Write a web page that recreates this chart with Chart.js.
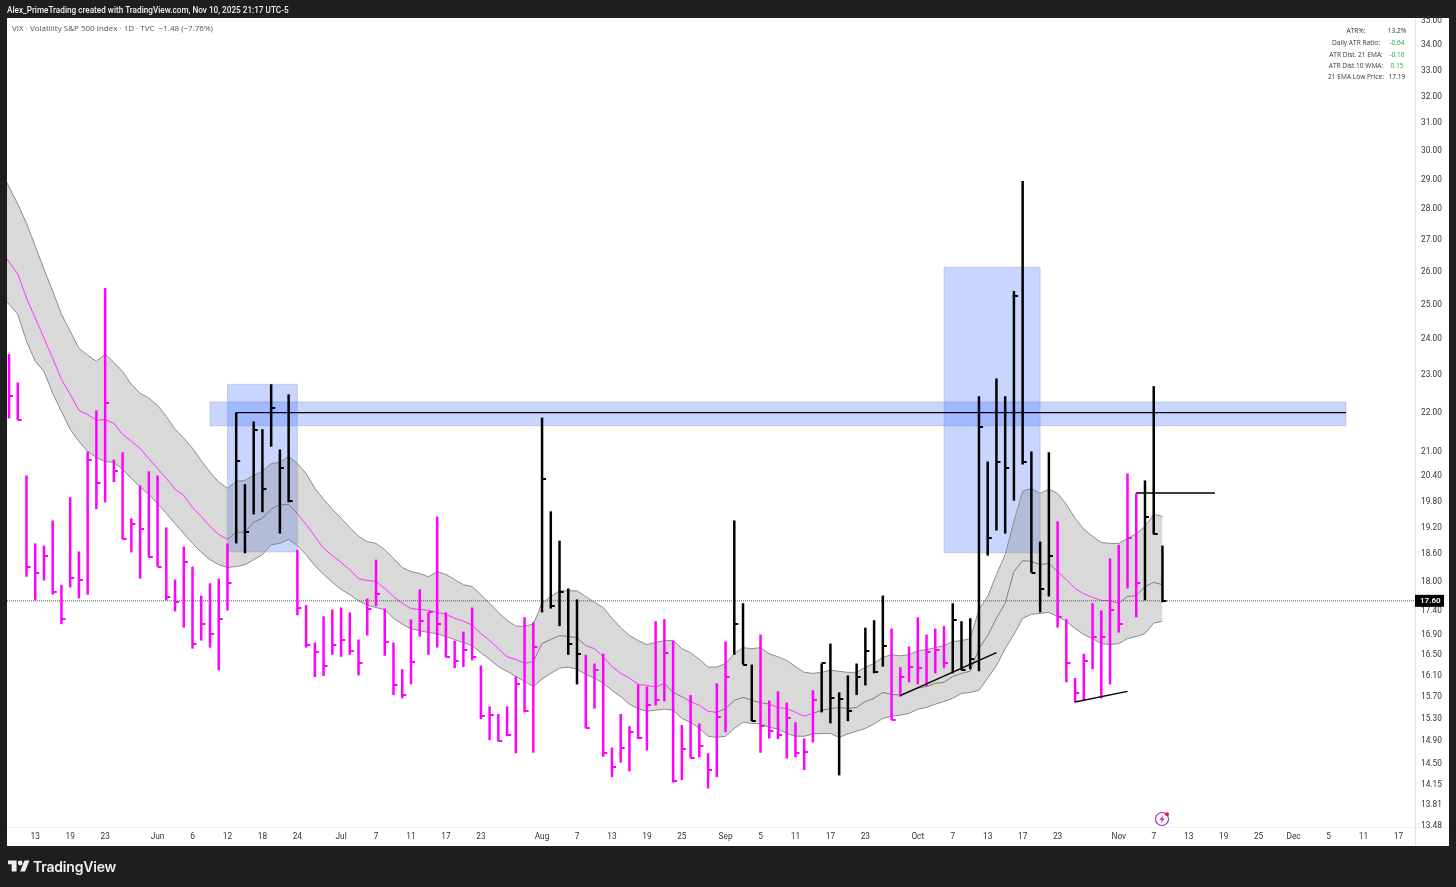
<!DOCTYPE html>
<html>
<head>
<meta charset="utf-8">
<title>VIX</title>
<script src="https://cdn.jsdelivr.net/npm/chart.js@4"></script>
<style>
  html, body { margin:0; padding:0; width:1456px; height:887px; overflow:hidden; background:#1e1e1e; }
  body { position:relative; font-family:Roboto, sans-serif; }
  #panel { position:absolute; left:7px; top:18px; width:1442px; height:828px; background:#fff; }
  #lineV { position:absolute; left:1415px; top:18px; width:1px; height:828px; background:#e0e3eb; }
  #lineH { position:absolute; left:7px; top:827px; width:1442px; height:1px; background:#eef0f3; }
  canvas { position:absolute; left:0; top:0; }
  .txt { position:absolute; white-space:nowrap; }
  #head { left:7px; top:3px; font-size:8.2px; line-height:14px; color:#f0f0f0; font-weight:500; }
  #sub { left:12px; top:22px; font-family:"Open Sans", sans-serif; font-size:8px; line-height:12px; color:#50535e; }
  #stats { position:absolute; left:1320px; top:25px; width:100px; font-family:"Open Sans", sans-serif; font-size:6.6px; color:#333; }
  .row { position:absolute; left:0; width:100px; height:11px; line-height:11px; }
  .row b { position:absolute; left:0; width:72px; text-align:center; font-weight:400; }
  .row i { position:absolute; left:62px; width:30px; text-align:center; font-style:normal; }
  .green { color:#22ab3c; }
  #logo { position:absolute; left:8px; top:858px; }
  #brand { left:33px; top:857px; font-family:Inter, sans-serif; font-size:14px; line-height:20px; font-weight:600; color:#f0f0f0; letter-spacing:-0.2px; }
  #bolt { position:absolute; left:1154px; top:811px; }
</style>
</head>
<body>
<div id="panel"></div>
<div id="lineV"></div>
<div id="lineH"></div>
<canvas id="myChart" width="1456" height="887"></canvas>
<div class="txt" id="head">Alex_PrimeTrading created with TradingView.com, Nov 10, 2025 21:17 UTC-5</div>
<div class="txt" id="sub">VIX · Volatility S&amp;P 500 Index · 1D · TVC &nbsp;−1.48 (−7.76%)</div>
<div id="stats"></div>
<svg id="logo" width="22" height="16" viewBox="0 0 36 24"><path fill="#f0f0f0" d="M14 3H0v6h6v12h8V3zM28 21h-8l7-18h8z"/><circle fill="#f0f0f0" cx="20" cy="7" r="4"/></svg>
<div class="txt" id="brand">TradingView</div>
<svg id="bolt" width="18" height="16" viewBox="0 0 18 16"><circle cx="8" cy="8" r="6.5" fill="#fff" stroke="#a32fc4" stroke-width="1.2"/><path fill="#c026c8" d="M9 4 5.6 8.8h2.2l-.8 3.4 3.6-5H8.3z"/><circle cx="13" cy="3.2" r="2" fill="#f0203c"/></svg>

<script>
'use strict';

// Daily VIX bars, one entry per session, first bar is mid May
const highs=[
  23.58,22.80,20.42,18.84,18.79,19.36,17.94,19.90,18.66,21.01,
  22.06,25.50,20.81,20.99,19.41,20.18,20.52,20.42,19.20,18.05,
  18.77,18.33,17.71,17.97,18.07,18.84,22.00,20.21,21.77,21.57,
  22.75,21.06,22.48,18.70,17.51,16.75,17.28,17.42,17.46,17.36,
  16.81,17.65,18.48,17.44,16.75,16.23,17.22,17.84,17.36,19.45,
  17.36,16.79,16.97,17.46,16.30,15.53,15.39,15.53,16.09,17.26,
  17.16,21.87,19.57,18.90,17.86,17.63,16.51,16.34,16.53,14.79,
  15.39,15.17,15.94,15.90,17.18,17.22,16.79,15.19,15.74,15.22,
  14.69,15.96,16.77,19.36,17.55,16.32,16.91,15.64,15.81,15.60,
  15.24,14.95,15.83,16.34,16.73,15.79,16.11,16.34,17.05,17.20,
  17.71,17.03,16.27,16.67,17.26,16.91,17.03,17.08,17.55,17.18,
  17.24,22.43,20.76,22.91,22.43,25.41,28.95,21.01,18.88,20.99,
  19.34,17.22,16.06,16.53,17.55,17.40,18.51,18.81,20.47,19.99,
  20.30,22.70,18.79
];
const lows=[
  21.85,21.80,18.11,17.61,18.03,17.73,17.12,17.88,17.65,17.73,
  19.62,19.78,20.26,18.93,18.64,18.07,18.53,18.33,17.61,17.38,
  17.05,16.63,16.79,16.65,16.21,17.40,18.84,18.62,19.50,19.55,
  21.13,19.06,19.78,17.30,16.65,16.08,16.10,16.51,16.47,16.51,
  16.11,16.89,17.49,16.49,15.74,15.68,15.94,16.87,16.51,16.65,
  16.46,16.25,16.27,16.40,15.30,14.92,14.90,14.99,14.69,15.42,
  14.70,17.36,17.44,17.08,16.51,15.94,15.13,15.49,14.63,14.28,
  14.53,14.38,14.94,14.74,15.55,15.62,14.19,14.23,14.60,14.62,
  14.09,14.28,15.06,16.51,16.32,15.26,14.70,14.95,14.94,14.60,
  14.62,14.40,14.88,15.42,15.22,14.31,15.26,15.74,15.92,16.15,
  16.28,15.28,15.71,15.98,15.94,15.90,16.15,16.25,16.15,16.21,
  16.23,16.19,18.57,19.13,19.06,19.82,20.69,18.20,17.36,17.69,
  17.05,15.98,15.60,15.64,16.23,15.68,15.94,16.95,17.86,17.26,
  17.61,19.04,17.57
];
const closes=[
  22.43,21.82,18.33,18.18,18.57,17.79,17.22,18.09,18.05,20.81,
  20.23,22.25,20.52,18.93,19.27,19.16,18.53,18.33,17.67,17.57,
  18.44,16.73,17.12,16.93,17.22,17.97,20.78,19.09,21.54,20.09,
  22.11,20.59,19.80,17.46,16.71,16.57,16.30,16.71,16.81,16.59,
  16.34,17.44,17.75,16.77,15.92,15.75,16.36,17.18,17.36,17.12,
  16.47,16.38,16.61,16.46,15.35,15.37,14.90,15.01,15.94,15.44,
  16.67,20.33,17.49,17.79,16.73,16.53,15.13,16.21,14.70,14.46,
  14.79,15.06,14.95,15.55,15.64,16.55,14.21,14.77,14.60,14.81,
  14.41,15.33,16.08,17.12,16.32,15.26,15.17,15.08,15.01,15.31,
  14.69,14.72,15.64,16.34,15.68,15.66,15.44,16.08,16.59,16.17,
  16.69,15.28,16.08,16.27,16.25,16.57,16.61,16.34,17.20,16.21,
  16.42,21.62,18.97,20.74,20.59,25.26,20.74,18.20,17.84,18.55,
  17.26,16.34,15.77,16.38,16.87,16.87,17.40,17.12,18.95,17.97,
  19.45,19.04,17.60
];
// sessions drawn black in the reference, the rest are magenta
const blackRuns=[[26,32],[61,65],[83,85],[93,100],[108,119],[130,132]];
// sessions where the middle band line turns grey
const greyMidRuns=[[25,32],[60,65],[75,76],[81,86],[92,119],[127,132]];

// EMA band. The *Before values are the session left of the first bar, cut off by the frame
const upperBefore=29.33;
const middleBefore=26.71;
const lowerBefore=25.26;
const bandUpper=[
  28.75,28.17,27.54,26.80,26.08,25.41,24.72,24.23,23.74,23.55,
  23.38,23.58,23.35,23.10,22.75,22.51,22.38,22.19,21.90,21.57,
  21.34,21.09,20.78,20.50,20.26,20.11,20.28,20.30,20.42,20.52,
  20.71,20.74,20.89,20.71,20.47,20.11,19.85,19.62,19.41,19.20,
  19.00,18.88,18.84,18.70,18.51,18.31,18.22,18.18,18.11,18.22,
  18.16,18.05,17.94,17.90,17.73,17.55,17.36,17.20,17.08,17.08,
  17.12,17.55,17.69,17.81,17.81,17.81,17.69,17.57,17.46,17.24,
  17.05,16.89,16.79,16.71,16.75,16.79,16.79,16.63,16.55,16.42,
  16.27,16.27,16.34,16.53,16.65,16.63,16.65,16.53,16.47,16.40,
  16.28,16.17,16.15,16.17,16.21,16.19,16.17,16.17,16.27,16.34,
  16.46,16.51,16.49,16.51,16.59,16.61,16.65,16.69,16.77,16.79,
  16.83,17.42,17.69,18.16,18.59,19.34,20.04,20.11,19.99,20.09,
  19.99,19.73,19.41,19.16,19.00,18.86,18.84,18.84,18.95,19.06,
  19.22,19.50,19.45
];
const bandMiddle=[
  26.30,25.93,25.20,24.61,24.03,23.46,22.88,22.48,22.06,21.95,
  21.80,21.82,21.72,21.44,21.26,21.09,20.83,20.59,20.35,20.09,
  19.94,19.66,19.45,19.22,19.04,18.93,19.09,19.09,19.32,19.41,
  19.62,19.73,19.73,19.52,19.27,19.00,18.73,18.57,18.42,18.26,
  18.07,18.03,18.01,17.86,17.69,17.55,17.44,17.42,17.40,17.36,
  17.32,17.24,17.18,17.10,16.93,16.79,16.63,16.47,16.42,16.34,
  16.38,16.73,16.81,16.89,16.87,16.85,16.69,16.63,16.47,16.28,
  16.15,16.06,15.94,15.92,15.89,15.96,15.79,15.71,15.62,15.55,
  15.44,15.42,15.49,15.64,15.70,15.64,15.60,15.57,15.51,15.49,
  15.42,15.35,15.40,15.46,15.49,15.51,15.49,15.51,15.62,15.68,
  15.79,15.75,15.74,15.81,15.87,15.90,15.96,15.98,16.09,16.15,
  16.19,16.63,16.89,17.24,17.55,18.22,18.46,18.44,18.37,18.40,
  18.22,18.05,17.86,17.75,17.67,17.61,17.60,17.55,17.69,17.71,
  17.90,17.99,17.94
];
const bandLower=[
  25.02,24.72,23.94,23.38,23.10,22.51,22.03,21.57,21.26,21.01,
  20.86,20.76,20.74,20.57,20.35,20.14,19.97,19.75,19.52,19.29,
  19.06,18.84,18.64,18.48,18.37,18.31,18.33,18.37,18.48,18.59,
  18.81,18.84,18.93,18.79,18.59,18.35,18.16,17.99,17.84,17.73,
  17.60,17.51,17.46,17.42,17.24,17.12,17.03,16.99,16.95,16.93,
  16.87,16.81,16.75,16.69,16.55,16.42,16.28,16.19,16.09,16.00,
  15.90,16.04,16.15,16.25,16.27,16.23,16.13,16.06,15.96,15.83,
  15.71,15.57,15.49,15.44,15.46,15.48,15.46,15.31,15.24,15.13,
  14.99,14.97,14.99,15.13,15.24,15.22,15.21,15.15,15.12,15.04,
  14.99,14.99,15.03,15.04,15.04,14.97,15.03,15.08,15.13,15.21,
  15.31,15.35,15.37,15.40,15.48,15.51,15.57,15.62,15.68,15.77,
  15.79,15.83,16.06,16.30,16.63,16.91,17.24,17.32,17.34,17.36,
  17.28,17.18,17.03,16.91,16.83,16.73,16.71,16.73,16.83,16.87,
  16.93,17.14,17.18
];

// Drawings, in session number and price
const zoneBoxes=[
  [23,153,21.66,22.28],
  [25,33,18.65,22.75],
  [107,118,18.63,26.14]
];
const drawnLines=[
  [[26,22.00],[153,22.00]],
  [[129,20.00],[138,20.00]],
  [[102,15.73],[113,16.55]],
  [[122,15.61],[128,15.81]]
];
const lastPrice=17.60;

// Axis ticks
const yTicks=[35,34,33,32,31,30,29,28,27,26,25,24,23,22,21,20.4,19.8,19.2,18.6,18,17.4,16.9,16.5,16.1,15.7,15.3,14.9,14.5,14.15,13.81,13.48];
const xTickIndex=[3,7,11,17,21,25,29,33,38,42,46,50,54,61,65,69,73,77,82,86,90,94,98,104,108,112,116,120,127,131,135,139,143,147,151,155,159];
const xTickLabels=['13','19','23','Jun','6','12','18','24','Jul','7','11','17','23','Aug','7','13','19','25','Sep','5','11','17','23','Oct','7','13','17','23','Nov','7','13','19','25','Dec','5','11','17'];
const xMin=-0.23;
const xMax=160.9;
const yMin=13.445;
const yMax=35.08;

// Stats table
const statNames=['ATR%:','Daily ATR Ratio:','ATR Dist. 21 EMA:','ATR Dist.10 WMA:','21 EMA Low Price:'];
const statValues=['13.2%','-0.64','-0.16','0.15','17.19'];
const statGreen=[false,true,true,true,false];

const statsBox=document.getElementById('stats');
const rowTops=[0,12,23.5,35,46];
for (let i=0; i<statNames.length; i++){
  const row=document.createElement('div');
  row.className='row';
  row.style.top=rowTops[i]+'px';
  const nameEl=document.createElement('b');
  nameEl.textContent=statNames[i];
  const valEl=document.createElement('i');
  valEl.textContent=statValues[i];
  if (statGreen[i]) valEl.className='green';
  row.appendChild(nameEl);
  row.appendChild(valEl);
  statsBox.appendChild(row);
}

const MAGENTA='#ff00ff';
const BLACK='#000000';

function inRuns(runs,i){
  return runs.some(r => i>=r[0] && i<=r[1]);
}
function barColor(i){
  return inRuns(blackRuns,i) ? BLACK : MAGENTA;
}

// close tick: only the right half of the canvas is painted so it sits right of the bar
function closeTick(color){
  const c=document.createElement('canvas');
  c.width=10;
  c.height=2;
  const g=c.getContext('2d');
  g.fillStyle=color;
  g.fillRect(5,0,4,2);
  return c;
}
const tickBlack=closeTick(BLACK);
const tickMagenta=closeTick(MAGENTA);

const toPoints=arr => arr.map((v,i) => ({x:i,y:v}));
const bandPoints=(before,arr) => [{x:-1,y:before},...toPoints(arr)];

// blue rectangles go under the datasets
const zonePlugin={
  id:'zones',
  beforeDatasetsDraw(chart){
    const {ctx,scales:{x,y}}=chart;
    ctx.save();
    zoneBoxes.forEach(b => {
      const left=x.getPixelForValue(b[0]);
      const right=x.getPixelForValue(b[1]);
      const top=y.getPixelForValue(b[3]);
      const bottom=y.getPixelForValue(b[2]);
      ctx.fillStyle='rgba(41,98,255,0.26)';
      ctx.fillRect(left,top,right-left,bottom-top);
      ctx.strokeStyle='rgba(150,150,150,0.35)';
      ctx.lineWidth=1;
      ctx.strokeRect(left,top,right-left,bottom-top);
    });
    ctx.restore();
  }
};

// black price flag on the axis
const pricePlugin={
  id:'priceFlag',
  afterDraw(chart){
    const {ctx,scales:{y},chartArea}=chart;
    const py=y.getPixelForValue(lastPrice);
    ctx.save();
    ctx.fillStyle='#000';
    ctx.fillRect(chartArea.right,py-6,29,12);
    ctx.fillStyle='#fff';
    ctx.font='600 8px Roboto';
    ctx.textBaseline='middle';
    ctx.fillText(lastPrice.toFixed(2),chartArea.right+5,py+0.5);
    ctx.restore();
  }
};

const lineSets=drawnLines.map(l => ({
  type:'line',
  data:l.map(p => ({x:p[0],y:p[1]})),
  borderColor:BLACK,
  borderWidth:1.4,
  pointRadius:0,
  order:0
}));

const ctx=document.getElementById('myChart').getContext('2d');
new Chart(ctx,{
  type:'bar',
  data:{
    datasets:[
      {
        type:'line',
        data:bandPoints(upperBefore,bandUpper),
        borderColor:'#8c8c8c',
        borderWidth:1,
        pointRadius:0,
        backgroundColor:'rgba(128,128,128,0.3)',
        fill:2,
        order:5
      },
      {
        type:'line',
        data:bandPoints(middleBefore,bandMiddle),
        borderColor:'#ff33ff',
        borderWidth:1,
        pointRadius:0,
        fill:false,
        segment:{
          borderColor:c => inRuns(greyMidRuns,c.p0.parsed.x) ? '#7d7d7d' : '#ff33ff'
        },
        order:4
      },
      {
        type:'line',
        data:bandPoints(lowerBefore,bandLower),
        borderColor:'#8c8c8c',
        borderWidth:1,
        pointRadius:0,
        fill:false,
        order:5
      },
      {
        type:'line',
        data:[{x:xMin,y:lastPrice},{x:xMax,y:lastPrice}],
        borderColor:'#555',
        borderWidth:1,
        borderDash:[1,1],
        pointRadius:0,
        order:3
      },
      {
        type:'bar',
        data:lows.map((v,i) => ({x:i,y:[v,highs[i]]})),
        backgroundColor:lows.map((v,i) => barColor(i)),
        barThickness:2.5,
        inflateAmount:0,
        grouped:false,
        order:2
      },
      {
        type:'line',
        data:toPoints(closes),
        showLine:false,
        pointStyle:closes.map((v,i) => inRuns(blackRuns,i) ? tickBlack : tickMagenta),
        order:1
      },
      ...lineSets
    ]
  },
  plugins:[zonePlugin,pricePlugin],
  options:{
    responsive:false,
    animation:false,
    events:[],
    layout:{padding:{left:7,top:19,right:7,bottom:40}},
    plugins:{legend:{display:false},tooltip:{enabled:false}},
    scales:{
      x:{
        type:'linear',
        offset:false,
        min:xMin,
        max:xMax,
        grid:{display:false,drawTicks:false},
        border:{display:false},
        afterBuildTicks:scale => {
          scale.ticks=xTickIndex.map(v => ({value:v}));
        },
        afterFit:scale => {
          scale.height=19;
        },
        ticks:{
          autoSkip:false,
          maxRotation:0,
          padding:4,
          color:'#333',
          font:{family:'Roboto',size:8.3},
          callback:v => xTickLabels[xTickIndex.indexOf(v)]
        }
      },
      y:{
        type:'logarithmic',
        position:'right',
        min:yMin,
        max:yMax,
        beginAtZero:false,
        grid:{display:false,drawTicks:false},
        border:{display:false},
        afterBuildTicks:scale => {
          scale.ticks=yTicks.map(v => ({value:v}));
        },
        afterFit:scale => {
          scale.width=34;
        },
        ticks:{
          autoSkip:false,
          padding:6,
          color:'#333',
          font:{family:'Roboto',size:8.3},
          callback:v => Number(v).toFixed(2)
        }
      }
    }
  }
});
</script>
</body>
</html>
